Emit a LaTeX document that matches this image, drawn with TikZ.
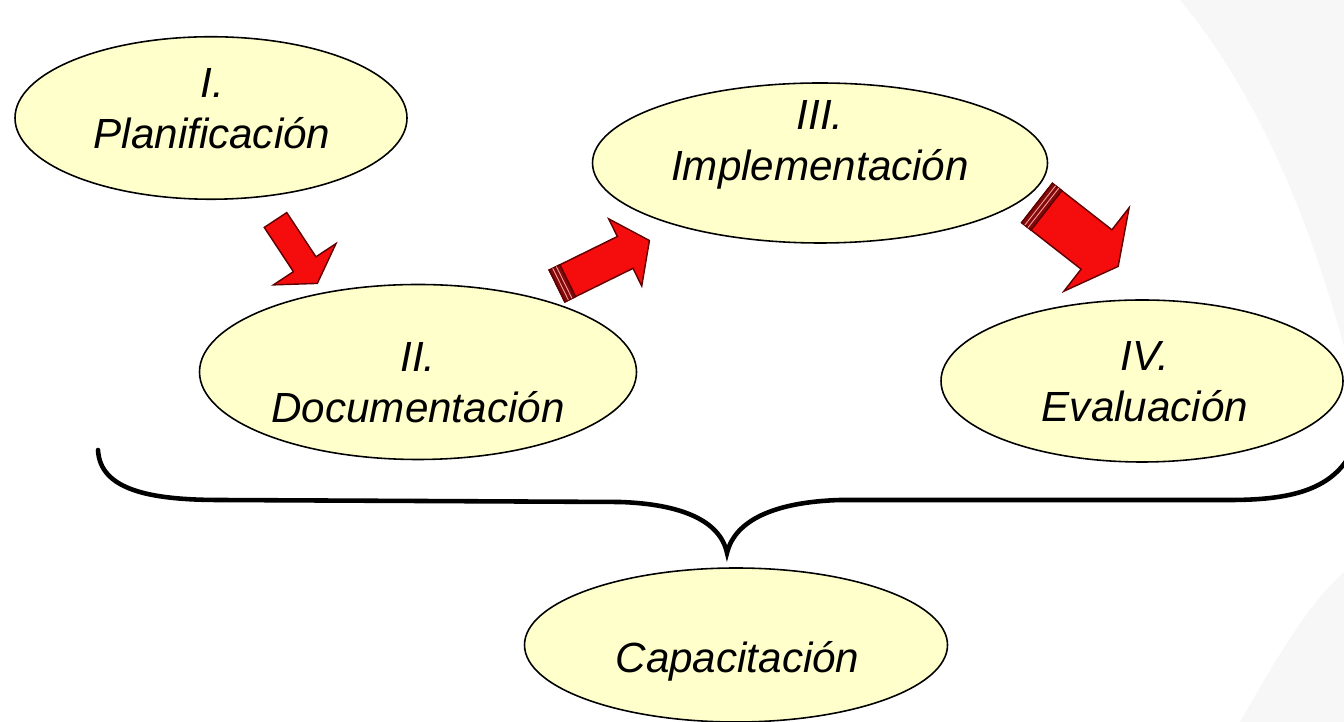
\documentclass[tikz,border=0pt]{standalone}
\usepackage{fontspec}
\setmainfont{Liberation Sans}
\usetikzlibrary{shapes.geometric,calc}
\definecolor{amarillo}{RGB}{255,255,204}
\definecolor{rojo}{RGB}{245,12,12}
\definecolor{bordeflecha}{RGB}{95,0,0}
\definecolor{banda}{RGB}{130,10,10}
\tikzset{
    fase/.style={ellipse,draw=black,line width=0.9pt,fill=amarillo,inner sep=0pt},
    rotulo/.style={align=center,inner sep=0pt,font=\itshape\fontsize{24}{29}\selectfont},
    llave/.style={line width=2.6pt,line cap=round},
    cuerpo/.style={fill=rojo,draw=bordeflecha,line width=0.8pt},
    pics/flecha/.style n args={4}{code={%
      \filldraw[cuerpo]
        (0,-#1/2) -- (#2-#4,-#1/2) -- (#2-#4,-#3/2) -- (#2,0) -- (#2-#4,#3/2) -- (#2-#4,#1/2) -- (0,#1/2) -- cycle;
    }},
    pics/flecharayada/.style n args={4}{code={%
      \filldraw[cuerpo]
        (0,-#1/2) -- (#2-#4,-#1/2) -- (#2-#4,-#3/2) -- (#2,0) -- (#2-#4,#3/2) -- (#2-#4,#1/2) -- (0,#1/2) -- cycle;
      \filldraw[fill=banda,draw=bordeflecha,line width=0.8pt] (0,-#1/2) rectangle (0.24,#1/2);
      \draw[rojo!40!white,line width=0.5pt] (0.08,-#1/2) -- (0.08,#1/2) (0.16,-#1/2) -- (0.16,#1/2);
    }},
  }
\begin{document}
\begin{tikzpicture}
  \useasboundingbox (0,0) rectangle (26.88,14.44);
  % fondo
  \fill[black!3] (23.6,14.44) .. controls (25.2,12.5) and (26.2,10) .. (26.88,7.5) -- (26.88,14.44) -- cycle;
  \fill[black!3] (24.8,0) .. controls (25.6,1.4) and (26.2,2.4) .. (26.88,3.0) -- (26.88,0) -- cycle;
  % fases
  \node[fase,minimum width=7.84cm,minimum height=3.25cm] (P) at (4.22,12.08) {};
  \node[fase,minimum width=8.74cm,minimum height=3.5cm] (D) at (8.36,7.0) {};
  \node[fase,minimum width=9.1cm,minimum height=3.2cm] (Im) at (16.4,11.18) {};
  \node[fase,minimum width=8.04cm,minimum height=3.24cm] (Ev) at (22.84,6.82) {};
  \node[fase,minimum width=8.46cm,minimum height=3.08cm] (Ca) at (14.72,1.54) {};
  \node[rotulo] (tP) at (4.24,12.26) {I.\\Planificación};
  \node[rotulo] (tD) at (8.36,6.79) {II.\\Documentación};
  \node[rotulo] (tIm) at (16.4,11.55) {III.\\Implementación};
  \node[rotulo] (tEv) at (22.9,6.8) {IV.\\Evaluación};
  \node[rotulo] (tCa) at (14.75,1.21) {Capacitación};
  % flechas
  \pic[rotate=-56.6] (f1) at (5.51,10.04) {flecha={0.54}{1.52}{1.5}{0.46}};
  \pic[rotate=26.2] (f2) at (11.14,8.72) {flecharayada={0.71}{2.06}{1.5}{0.54}};
  \pic[rotate=-38] (f3) at (20.74,10.38) {flecharayada={1.0}{2.06}{2.12}{0.55}};
  % llave
  \coordinate (L) at (1.96,5.44);
  \coordinate (T) at (14.54,3.38);
  \coordinate (R) at (27.0,5.34);
  \draw[llave] (L) .. controls +(0.04,-0.8) and +(-1.4,0) .. (4.4,4.44) -- (12.4,4.40)
    .. controls +(1.2,-0.04) and +(-0.14,0.66) .. (T)
    .. controls +(0.16,0.66) and +(-1.3,-0.04) .. (16.8,4.44) -- (24.6,4.44)
    .. controls +(1.2,0) and +(-0.4,-0.7) .. (R);
\end{tikzpicture}
\end{document}
